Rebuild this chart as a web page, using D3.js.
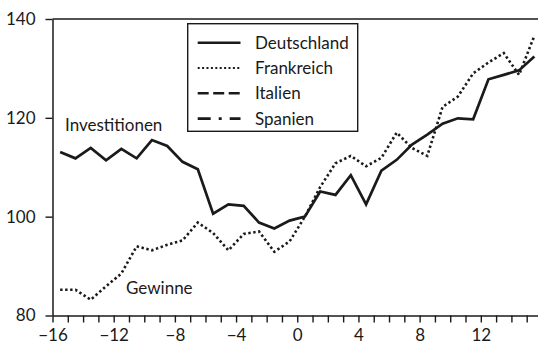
<!DOCTYPE html>
<html>
<head>
<meta charset="utf-8">
<script src="https://cdn.jsdelivr.net/npm/d3@7"></script>
<style>
  html, body { margin: 0; padding: 0; background: #fff; }
  svg { display: block; }
  text { font-family: Lato, "Noto Sans", sans-serif; fill: #1a1a1a; }
</style>
</head>
<body>
<svg id="chart" width="538" height="345"></svg>
<script>
// Quarters relative to the reference point (mid-quarter positions)
const quarters = d3.range(-15.5, 16, 1);

// Index values
const investitionen = [113.1, 111.8, 113.9, 111.4, 113.7, 111.8, 115.5, 114.3,
  111.1, 109.6, 100.6, 102.5, 102.2, 98.8, 97.6, 99.2,
  100.0, 105.1, 104.4, 108.4, 102.5, 109.3, 111.5, 114.6,
  116.6, 118.8, 119.9, 119.7, 127.8, 128.7, 129.6, 132.4];

const gewinne = [85.2, 85.2, 83.2, 85.9, 88.5, 94.0, 93.2, 94.3,
  95.2, 98.8, 96.7, 93.2, 96.5, 97.0, 92.9, 95.0,
  100.0, 106.0, 110.8, 112.3, 110.2, 111.9, 117.0, 113.9,
  112.3, 122.2, 124.3, 129.0, 131.2, 133.1, 128.7, 136.6];

const yTicks = [80, 100, 120, 140];
const xTicks = d3.range(-16, 16, 1);
const xLabelStep = 4;

const legendItems = ["Deutschland", "Frankreich", "Italien", "Spanien"];
const legendDash = ["none", "2,2.4", "11,4.5", "13,8,3,8"];
const legendWidth = [2.6, 1.8, 2.6, 2.6];

const ink = "#1a1a1a";
const svg = d3.select("#chart");

const x = d3.scaleLinear().domain([-16, 16]).range([52.5, 542]);
const y = d3.scaleLinear().domain([80, 140]).range([315.5, 19]);

// Frame line along the top of the plot
svg.append("line")
  .attr("x1", x(-16)).attr("x2", 538)
  .attr("y1", y(140)).attr("y2", y(140))
  .attr("stroke", ink).attr("stroke-width", 1.5);

// Axes
const yAxis = d3.axisLeft(y).tickValues(yTicks).tickSize(7).tickSizeOuter(0).tickPadding(10);
const gy = svg.append("g").attr("transform", `translate(${x(-16)},0)`).call(yAxis);

const xAxis = d3.axisBottom(x).tickValues(xTicks).tickSize(7).tickSizeOuter(0).tickPadding(6)
  .tickFormat(d => d % xLabelStep === 0 && d <= 12 ? d3.format("d")(d) : "");
const gx = svg.append("g").attr("transform", `translate(0,${y(80)})`).call(xAxis);

[gx, gy].forEach(g => {
  g.select(".domain").attr("stroke", ink).attr("stroke-width", 1.5);
  g.selectAll(".tick line").attr("stroke", ink).attr("stroke-width", 1.4);
  g.selectAll(".tick text").attr("font-size", 17).attr("fill", ink)
    .style("font-family", "Lato, 'Noto Sans', sans-serif");
});

// Series lines
const line = d3.line().x((d, i) => x(quarters[i])).y(d => y(d));

svg.append("path")
  .datum(gewinne)
  .attr("d", line)
  .attr("fill", "none")
  .attr("stroke", ink)
  .attr("stroke-width", 2.6)
  .attr("stroke-dasharray", "2.4,2.6");

svg.append("path")
  .datum(investitionen)
  .attr("d", line)
  .attr("fill", "none")
  .attr("stroke", ink)
  .attr("stroke-width", 2.7)
  .attr("stroke-linejoin", "miter");

// Series annotations
svg.append("text").attr("x", 65).attr("y", 131).attr("font-size", 17).text("Investitionen");
svg.append("text").attr("x", 126).attr("y", 294).attr("font-size", 17).text("Gewinne");

// Legend
const legend = svg.append("g");
legend.append("rect")
  .attr("x", 187.7).attr("y", 23.7)
  .attr("width", 170).attr("height", 107.6)
  .attr("fill", "#fff").attr("stroke", ink).attr("stroke-width", 1.4);

legendItems.forEach((name, i) => {
  const cy = 42.7 + i * 25.3;
  legend.append("line")
    .attr("x1", 197.7).attr("x2", 240.5)
    .attr("y1", cy).attr("y2", cy)
    .attr("stroke", ink)
    .attr("stroke-width", legendWidth[i])
    .attr("stroke-dasharray", legendDash[i]);
  legend.append("text")
    .attr("x", 255).attr("y", cy)
    .attr("dy", "0.36em")
    .attr("font-size", 17)
    .text(name);
});
</script>
</body>
</html>
